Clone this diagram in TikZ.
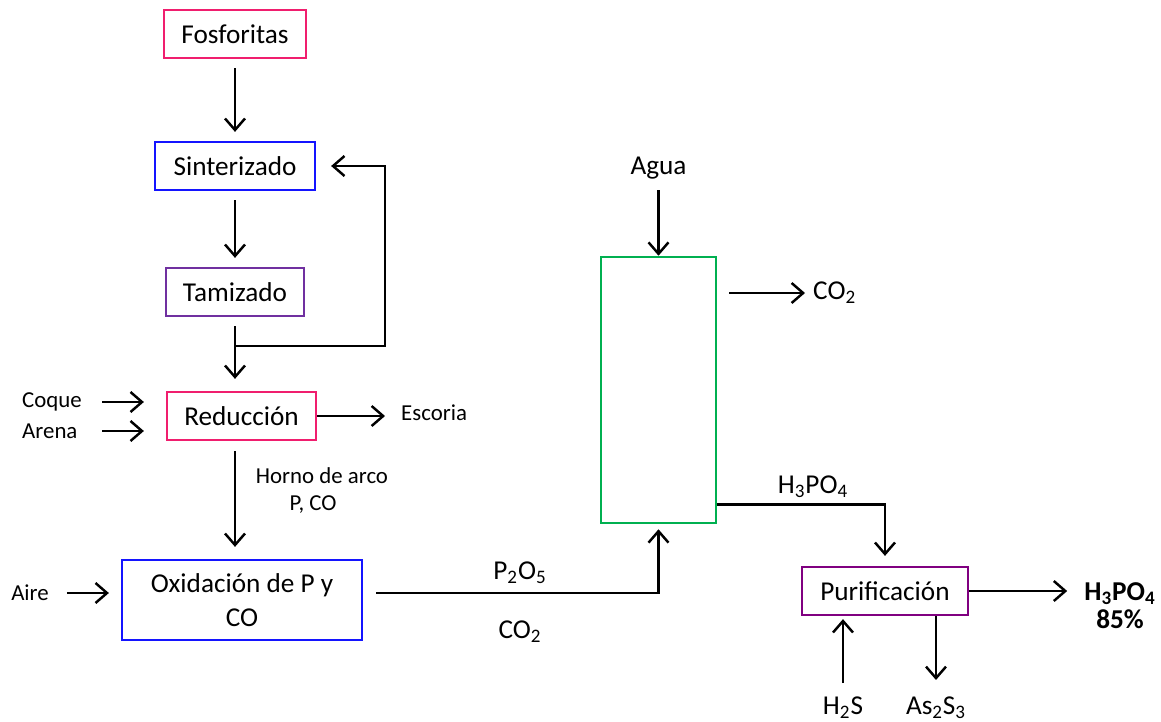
\documentclass[tikz,border=0pt]{standalone}
\usepackage{fontspec}
\setmainfont{Carlito}
\usetikzlibrary{arrows.meta}
\definecolor{rosa}{RGB}{240,30,110}
\definecolor{azul}{RGB}{20,20,255}
\definecolor{morado}{RGB}{112,48,160}
\definecolor{violeta}{RGB}{128,0,128}
\definecolor{verde}{RGB}{0,176,80}
\begin{document}
\begin{tikzpicture}[x=0.02cm, y=-0.02cm, line width=1.4pt, >={Straight Barb[length=2.3mm,width=4mm]}]
		\tikzstyle{block} = [rectangle,draw,line width=1.3pt,minimum height=0.96cm,font=\fontsize{15.5}{19}\selectfont]
		\tikzstyle{lbl} = [inner sep=0pt,font=\fontsize{13}{15}\selectfont]
		\tikzstyle{chem} = [inner sep=0pt,font=\fontsize{15.5}{18}\selectfont]
		\useasboundingbox (0,0) rectangle (1161,721);
		% left column of steps
		\node[block,draw=rosa,minimum width=2.84cm] at (235,34) (fosforitas) {Fosforitas};
		\node[block,draw=azul,minimum width=3.2cm] at (235,166) (sinterizado) {Sinterizado};
		\node[block,draw=morado,minimum width=2.76cm] at (235,292) (tamizado) {Tamizado};
		\node[block,draw=rosa,minimum width=2.98cm] at (241.5,416) (reduccion) {Reducción};
		\node[block,draw=azul,minimum width=4.8cm,minimum height=1.6cm,align=center] at (242,600) (oxidacion) {Oxidación de P y\\CO};
		\node[lbl,anchor=west] at (21,402) (coque) {Coque};
		\node[lbl,anchor=west] at (21,431) (arena) {Arena};
		\node[lbl,anchor=west] at (400,413) (escoria) {Escoria};
		\node[lbl] at (322,476) (horno) {Horno de arco};
		\node[lbl] at (313,505) (pco) {P, CO};
		\node[lbl] at (30,593) (aire) {Aire};
		\coordinate (retorno) at (235,346);
		\path[->,shorten <=0.18cm,shorten >=0.18cm] (fosforitas) edge (sinterizado)
		(sinterizado) edge (tamizado);
		\draw[->,shorten <=0.18cm,shorten >=0.24cm] (tamizado.south) -- (tamizado.south |- reduccion.north);
		\draw[->,shorten >=0.3cm] (retorno) -- ++(150,0) |- (sinterizado.east);
		\draw[->,shorten <=0.38cm,shorten >=0.44cm] (coque.east) -- (coque.east -| reduccion.west);
		\draw[->,shorten <=0.38cm,shorten >=0.44cm] (arena.east -| coque.east) -- (arena.east -| reduccion.west);
		\draw[->,shorten >=0.3cm] (reduccion.east) -- (reduccion.east -| escoria.west);
		\draw[->,shorten <=0.2cm,shorten >=0.24cm] (reduccion.south -| tamizado.south) -- (oxidacion.north -| tamizado.south);
		\draw[->,shorten <=0.34cm,shorten >=0.24cm] (aire.east) -- (aire.east -| oxidacion.west);
		% absorption column
		\node[draw=verde,line width=1.5pt,minimum width=2.3cm,minimum height=5.32cm] at (658.5,390) (columna) {};
		\node[chem] at (658.5,168) (agua) {Agua};
		\node[chem,anchor=west] at (812,293) (co2a) {CO\textsubscript{2}};
		\node[chem] at (520,573) (p2o5) {P\textsubscript{2}O\textsubscript{5}};
		\node[chem] at (520,632) (co2b) {CO\textsubscript{2}};
		\node[chem] at (813,487) (h3po4) {H\textsubscript{3}PO\textsubscript{4}};
		\draw[->,shorten <=0.2cm] (agua) -- (columna.north);
		\draw[->,shorten <=0.24cm,shorten >=0.14cm] (columna.east |- co2a.west) -- (co2a.west);
		\draw[->,shorten <=0.26cm,shorten >=0.1cm] ([yshift=0.14cm]oxidacion.east) -| (columna.south);
		% purification
		\node[block,draw=violeta,minimum width=3.32cm] at (885,591) (purificacion) {Purificación};
		\node[chem,font=\bfseries\fontsize{15.5}{16}\selectfont,align=center] at (1120,606) (producto) {H\textsubscript{3}PO\textsubscript{4}\\85\%};
		\node[chem] at (843,708) (h2s) {H\textsubscript{2}S};
		\node[chem] at (936,708) (as2s3) {As\textsubscript{2}S\textsubscript{3}};
		\draw[->,shorten >=0.2cm] ([yshift=0.4cm]columna.south east) -| (purificacion.north);
		\draw[->,shorten >=0.32cm] (purificacion.east) -- (purificacion.east -| producto.west);
		\draw[->,shorten <=0.26cm,shorten >=0.06cm] (h2s) -- (h2s |- purificacion.south);
		\draw[->,shorten >=0.32cm] (purificacion.south -| as2s3) -- (as2s3);
\end{tikzpicture}
\end{document}
